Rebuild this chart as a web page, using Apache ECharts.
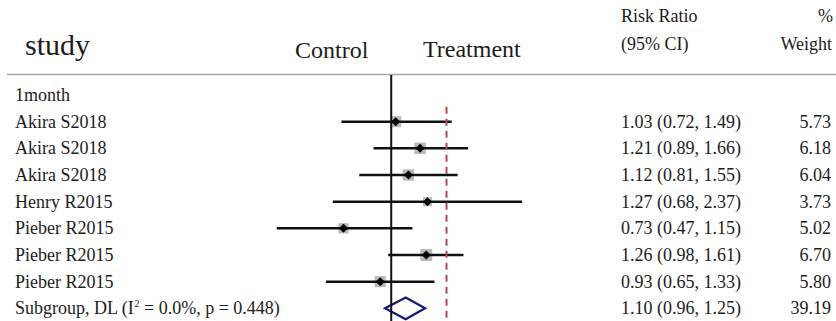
<!DOCTYPE html>
<html>
<head>
<meta charset="utf-8">
<script src="https://cdn.jsdelivr.net/npm/echarts@6/dist/echarts.min.js"></script>
<style>
  html, body { margin: 0; padding: 0; background: #fff; }
  #chart { width: 836px; height: 321px; }
</style>
</head>
<body>
<div id="chart"></div>
<script>
// Forest plot: risk ratios at 1 month, log-scaled axis
const groupLabel = '1month';
const studies = ['Akira S2018', 'Akira S2018', 'Akira S2018', 'Henry R2015', 'Pieber R2015', 'Pieber R2015', 'Pieber R2015'];
const riskRatio = [1.03, 1.21, 1.12, 1.27, 0.73, 1.26, 0.93];
const ciLower = [0.72, 0.89, 0.81, 0.68, 0.47, 0.98, 0.65];
const ciUpper = [1.49, 1.66, 1.55, 2.37, 1.15, 1.61, 1.33];
const weights = [5.73, 6.18, 6.04, 3.73, 5.02, 6.70, 5.80];

const pooledLabel = 'Subgroup, DL (I{sup|2} = 0.0%, p = 0.448)';
const pooledRR = 1.10;
const pooledLower = 0.96;
const pooledUpper = 1.25;
const pooledWeight = 39.19;

const nullEffect = 1;
const overallEffect = 1.44;

const FONT = '"Liberation Serif", "Times New Roman", "DejaVu Serif", serif';
const TEXT = '#1c1c1c';

const fmt = v => v.toFixed(2);

// rows: 0 = group heading, 1..n = studies, n+1 = pooled
const studyRows = studies.map((s, i) => [riskRatio[i], ciLower[i], ciUpper[i], weights[i], i + 1]);
const pooledRow = studies.length + 1;

const tableRows = [[0, groupLabel, '', '']]
  .concat(studies.map((s, i) => [i + 1, s, fmt(riskRatio[i]) + ' (' + fmt(ciLower[i]) + ', ' + fmt(ciUpper[i]) + ')', fmt(weights[i])]))
  .concat([[pooledRow, pooledLabel, fmt(pooledRR) + ' (' + fmt(pooledLower) + ', ' + fmt(pooledUpper) + ')', fmt(pooledWeight)]]);

const chart = echarts.init(document.getElementById('chart'), null, { renderer: 'svg' });

const textStyle = (text, x, y, align, size) => ({
  type: 'text',
  x: x, y: y,
  style: { text: text, fill: TEXT, font: size + 'px ' + FONT, align: align, verticalAlign: 'middle' }
});

// row pitch 26.67px: row -1 sits at the grid top, the grid ends at the window bottom
chart.setOption({
  animation: false,
  backgroundColor: '#fff',
  grid: { left: 252.3, right: 278.2, top: 68.33, bottom: 0, containLabel: false },
  xAxis: {
    type: 'log', logBase: 10, min: 0.4, max: 3,
    show: false, splitLine: { show: false }
  },
  yAxis: {
    type: 'value', inverse: true, min: -1, max: 8.475,
    show: false, splitLine: { show: false }
  },
  graphic: [
    { type: 'line', shape: { x1: 7, y1: 74.5, x2: 836, y2: 74.5 }, style: { stroke: '#a8a8a8', lineWidth: 1.6 } },
    textStyle('study', 25, 44, 'left', 30),
    textStyle('Control', 295, 50, 'left', 24),
    textStyle('Treatment', 423, 49, 'left', 24),
    textStyle('Risk Ratio', 621, 16, 'left', 18),
    textStyle('(95% CI)', 621, 44, 'left', 18),
    textStyle('%', 833, 16, 'right', 18),
    textStyle('Weight', 832, 44, 'right', 18)
  ],
  series: [
    {
      // line of no effect
      type: 'line',
      data: [[nullEffect, -0.75], [nullEffect, 8.475]],
      symbol: 'none',
      lineStyle: { color: '#111', width: 2 },
      silent: true
    },
    {
      // overall effect reference
      type: 'line',
      data: [[overallEffect, 0.44], [overallEffect, 8.475]],
      symbol: 'none',
      lineStyle: { color: '#b34a4a', width: 2, type: [7, 5] },
      silent: true
    },
    {
      // study estimates with confidence intervals
      type: 'custom',
      data: studyRows,
      encode: { x: [0, 1, 2], y: 4 },
      renderItem: (params, api) => {
        const row = api.value(4);
        const p = api.coord([api.value(0), row]);
        const lo = api.coord([api.value(1), row]);
        const hi = api.coord([api.value(2), row]);
        const side = 4.6 * Math.sqrt(api.value(3));
        const d = 4.5;
        return {
          type: 'group',
          children: [
            { type: 'rect', shape: { x: p[0] - side / 2, y: p[1] - side / 2, width: side, height: side }, style: { fill: '#b9b9b9' } },
            { type: 'line', shape: { x1: lo[0], y1: lo[1], x2: hi[0], y2: hi[1] }, style: { stroke: '#111', lineWidth: 2.5 } },
            { type: 'polygon', shape: { points: [[p[0] - d, p[1]], [p[0], p[1] - d], [p[0] + d, p[1]], [p[0], p[1] + d]] }, style: { fill: '#000' } }
          ]
        };
      }
    },
    {
      // pooled estimate diamond
      type: 'custom',
      data: [[pooledRR, pooledLower, pooledUpper, pooledRow]],
      encode: { x: [0, 1, 2], y: 3 },
      renderItem: (params, api) => {
        const row = api.value(3);
        const c = api.coord([api.value(0), row]);
        const lo = api.coord([api.value(1), row]);
        const hi = api.coord([api.value(2), row]);
        const h = 10.8;
        return {
          type: 'polygon',
          shape: { points: [[lo[0], c[1]], [c[0], c[1] - h], [hi[0], c[1]], [c[0], c[1] + h]] },
          style: { fill: 'none', stroke: '#16167a', lineWidth: 2.2 }
        };
      }
    },
    {
      // table text: labels, estimates, weights
      type: 'custom',
      data: tableRows,
      encode: { y: 0 },
      renderItem: (params, api) => {
        const i = params.dataIndex;
        const r = tableRows[i];
        const y = api.coord([1, r[0]])[1];
        const base = { fill: TEXT, font: '18px ' + FONT, verticalAlign: 'middle' };
        return {
          type: 'group',
          children: [
            { type: 'text', x: 15, y: y, style: Object.assign({}, base, { text: r[1], align: 'left',
              rich: { sup: { fontSize: 10, fontFamily: FONT, fill: TEXT, verticalAlign: 'top', padding: [0, 0, 10, 0] } } }) },
            { type: 'text', x: 621, y: y, style: Object.assign({}, base, { text: r[2], align: 'left' }) },
            { type: 'text', x: 831, y: y, style: Object.assign({}, base, { text: r[3], align: 'right' }) }
          ]
        };
      }
    }
  ]
});
</script>
</body>
</html>
